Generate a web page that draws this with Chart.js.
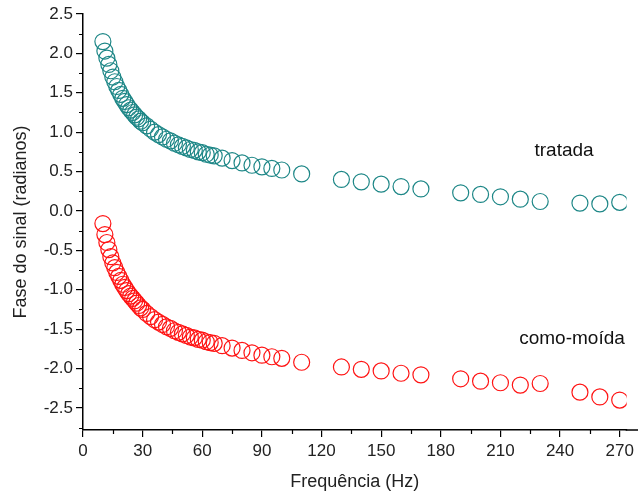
<!DOCTYPE html>
<html>
<head>
<meta charset="utf-8">
<script src="https://cdn.jsdelivr.net/npm/chart.js@4"></script>
<style>
  html, body { margin: 0; padding: 0; background: #fff; }
  #wrap { width: 638px; height: 494px; }
</style>
</head>
<body>
<div id="wrap"><canvas id="chart" width="638" height="494"></canvas></div>
<script>
// frequency (Hz)
const freq = [10, 11, 12, 13, 14, 15, 16, 17, 18, 19, 20, 21, 22, 23, 24, 25, 26, 27, 28, 29, 30,
  32, 34, 36, 38, 40, 42, 44, 46, 48, 50, 52, 54, 56, 58, 60, 62, 64, 66,
  70, 75, 80, 85, 90, 95, 100, 110, 130, 140, 150, 160, 170, 190, 200, 210, 220, 230, 250, 260, 270];

// phase (radians)
const tratada = [2.15, 2.03, 1.94, 1.86, 1.78, 1.70, 1.64, 1.58, 1.53, 1.48, 1.43, 1.39, 1.35, 1.31, 1.28, 1.25, 1.22, 1.19, 1.17, 1.14, 1.12,
  1.08, 1.04, 1.00, 0.97, 0.94, 0.91, 0.89, 0.86, 0.84, 0.82, 0.80, 0.78, 0.77, 0.75, 0.74, 0.72, 0.71, 0.70,
  0.67, 0.64, 0.61, 0.58, 0.56, 0.54, 0.52, 0.47, 0.40, 0.37, 0.34, 0.31, 0.28, 0.23, 0.21, 0.18, 0.15, 0.12, 0.10, 0.09, 0.11];

const comoMoida = [-0.16, -0.30, -0.40, -0.49, -0.58, -0.66, -0.72, -0.78, -0.83, -0.88, -0.93, -0.97, -1.01, -1.05, -1.08, -1.11, -1.14, -1.17, -1.20, -1.23, -1.25,
  -1.30, -1.34, -1.38, -1.41, -1.44, -1.47, -1.49, -1.52, -1.54, -1.56, -1.58, -1.60, -1.61, -1.63, -1.64, -1.66, -1.67, -1.68,
  -1.71, -1.74, -1.77, -1.80, -1.83, -1.85, -1.87, -1.92, -1.98, -2.01, -2.03, -2.06, -2.08, -2.13, -2.16, -2.18, -2.21, -2.19, -2.30, -2.36, -2.40];

const xTicks = [0, 30, 60, 90, 120, 150, 180, 210, 240, 270];
const yTicks = [-2.5, -2.0, -1.5, -1.0, -0.5, 0.0, 0.5, 1.0, 1.5, 2.0, 2.5];
const xMinor = [15, 45, 75, 105, 135, 165, 195, 225, 255];
const yMinor = [-2.75, -2.25, -1.75, -1.25, -0.75, -0.25, 0.25, 0.75, 1.25, 1.75, 2.25];

// series labels placed in data coordinates
const seriesLabels = [
  { text: "tratada", x: 242, y: 0.76 },
  { text: "como-moída", x: 246, y: -1.62 }
];

const FONT = "'Liberation Sans', Arial, sans-serif";

function toPoints(ys) {
  return freq.map((f, i) => ({ x: f, y: ys[i] }));
}

// small ticks between the labelled ones, axis run-out, and the series names
const extras = {
  id: "extras",
  afterDraw(chart) {
    const ctx = chart.ctx;
    const xs = chart.scales.x, ys = chart.scales.y;
    ctx.save();
    ctx.strokeStyle = "#000";
    ctx.lineWidth = 1.5;
    ctx.beginPath();
    ctx.moveTo(xs.right - 1, xs.top);
    ctx.lineTo(chart.width, xs.top);
    ctx.stroke();

    ctx.lineWidth = 1.2;
    ctx.beginPath();
    xMinor.forEach(v => {
      const px = Math.round(xs.getPixelForValue(v)) + 0.5;
      ctx.moveTo(px, xs.top);
      ctx.lineTo(px, xs.top + 4);
    });
    yMinor.forEach(v => {
      const py = Math.round(ys.getPixelForValue(v)) + 0.5;
      ctx.moveTo(ys.right, py);
      ctx.lineTo(ys.right - 4, py);
    });
    ctx.stroke();

    ctx.fillStyle = "#111";
    ctx.font = "19px " + FONT;
    ctx.textAlign = "center";
    ctx.textBaseline = "middle";
    seriesLabels.forEach(l => {
      ctx.fillText(l.text, xs.getPixelForValue(l.x), ys.getPixelForValue(l.y));
    });
    ctx.restore();
  }
};

new Chart(document.getElementById("chart"), {
  type: "scatter",
  data: {
    datasets: [
      {
        label: "tratada",
        data: toPoints(tratada),
        pointRadius: 8,
        pointHoverRadius: 8,
        pointBorderWidth: 1.2,
        pointBackgroundColor: "rgba(0,0,0,0)",
        pointBorderColor: "rgb(30,135,135)"
      },
      {
        label: "como-moída",
        data: toPoints(comoMoida),
        pointRadius: 8,
        pointHoverRadius: 8,
        pointBorderWidth: 1.2,
        pointBackgroundColor: "rgba(0,0,0,0)",
        pointBorderColor: "rgb(255,20,20)"
      }
    ]
  },
  options: {
    responsive: false,
    animation: false,
    layout: { padding: { top: 14, right: 0, left: 10, bottom: 0 } },
    plugins: {
      legend: { display: false },
      tooltip: { enabled: false }
    },
    scales: {
      x: {
        type: "linear",
        min: 0,
        max: 273.5,
        afterBuildTicks: s => { s.ticks = xTicks.map(v => ({ value: v })); },
        afterFit: s => { s.height = 64; },
        grid: { drawOnChartArea: false, color: "#000", tickLength: 7, lineWidth: 1.2 },
        border: { display: true, color: "#000", width: 1.5 },
        ticks: {
          color: "#222",
          font: { family: FONT, size: 17 },
          padding: 4,
          maxRotation: 0,
          callback: v => String(v)
        },
        title: {
          display: true,
          text: "Frequência (Hz)",
          color: "#222",
          font: { family: FONT, size: 18 },
          padding: { top: 4, bottom: 1 }
        }
      },
      y: {
        type: "linear",
        min: -2.78,
        max: 2.5,
        afterBuildTicks: s => { s.ticks = yTicks.map(v => ({ value: v })); },
        afterFit: s => { s.width = 73; },
        grid: { drawOnChartArea: false, color: "#000", tickLength: 7, lineWidth: 1.2 },
        border: { display: true, color: "#000", width: 1.5 },
        ticks: {
          color: "#222",
          font: { family: FONT, size: 17 },
          padding: 3,
          callback: v => v.toFixed(1)
        },
        title: {
          display: true,
          text: "Fase do sinal (radianos)",
          color: "#222",
          font: { family: FONT, size: 18 },
          padding: { top: 0, bottom: 2 }
        }
      }
    }
  },
  plugins: [extras]
});
</script>
</body>
</html>
